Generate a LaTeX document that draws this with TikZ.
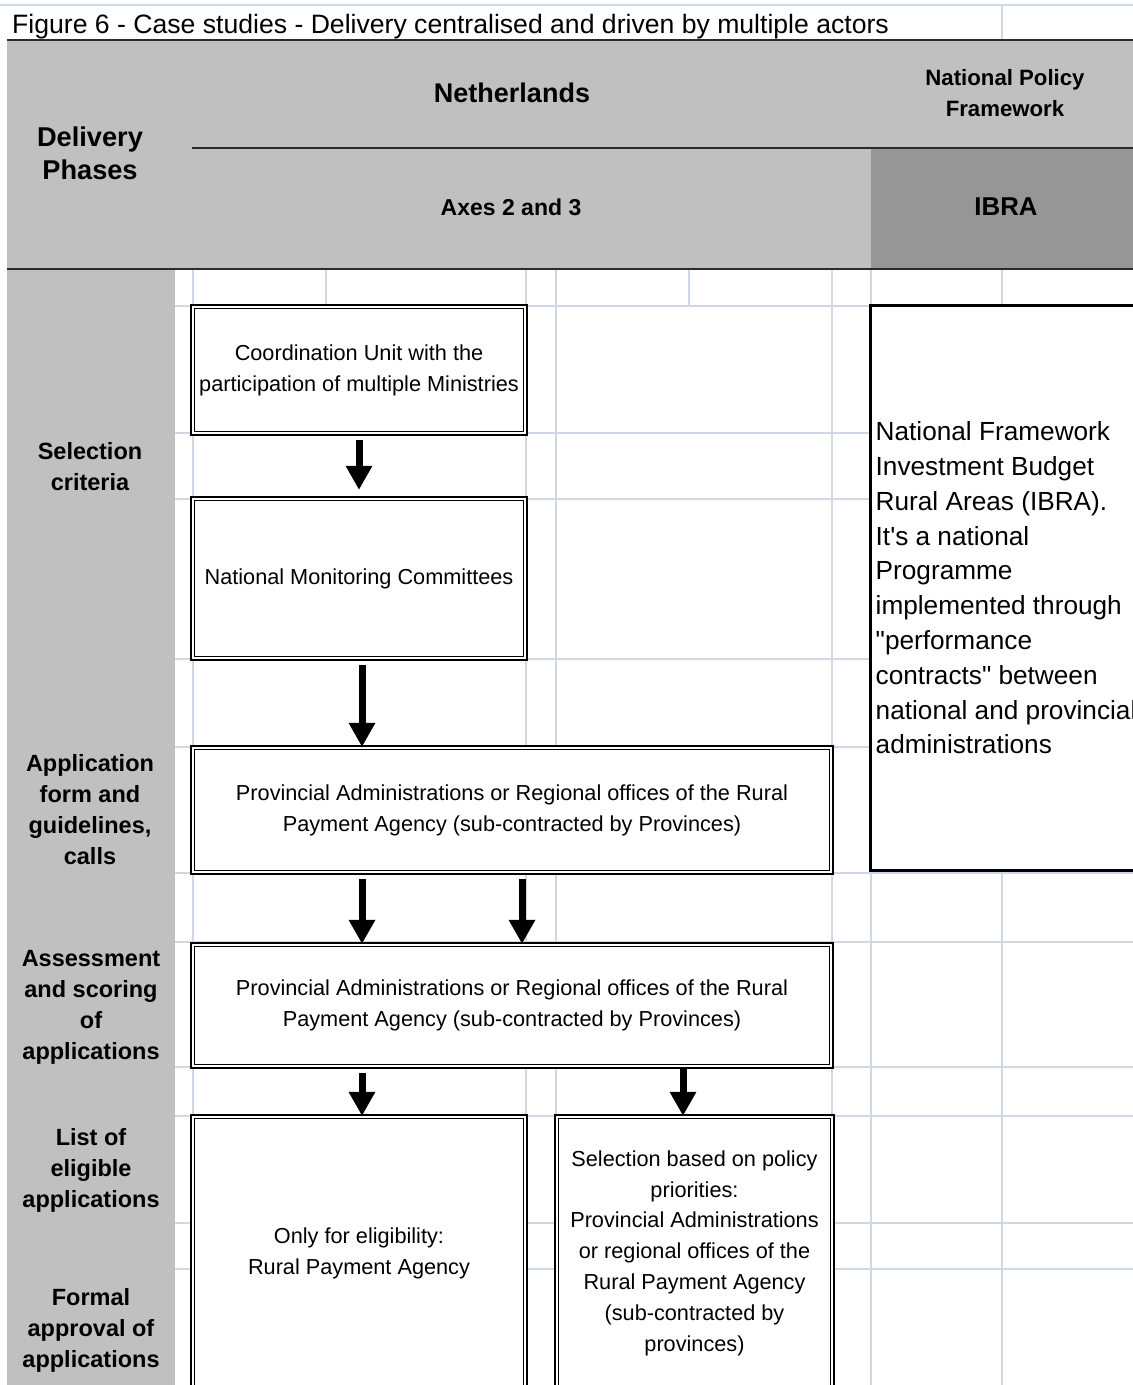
\documentclass[tikz,border=0pt]{standalone}
\usepackage{fontspec}
\setmainfont{Liberation Sans}
\usetikzlibrary{arrows.meta,calc}
\definecolor{hdrgray}{HTML}{C0C0C0}
\definecolor{ibragray}{HTML}{969696}
\definecolor{gridc}{HTML}{D0D7E5}
\definecolor{rulec}{HTML}{2B2B2B}

\begin{document}
\begin{tikzpicture}[x=1pt,y=-1pt,
  box/.style={draw=black, line width=1.7pt, double=white, double distance=2pt,
    fill=white, align=center, inner sep=0pt,
    font=\fontsize{21.7}{31}\selectfont},
  phase/.style={align=center, inner sep=0pt,
    font=\bfseries\fontsize{23.5}{31}\selectfont},
  head/.style={align=center, inner sep=0pt, font=\bfseries},
  grid/.style={draw=gridc, line width=1.3pt},
  rule/.style={draw=rulec, line width=2.6pt},
  arr/.style={line width=7pt, -{Triangle[width=25pt,length=24pt]},
    shorten <=6pt}]

\useasboundingbox (0,0) rectangle (1133,1385);
\clip (0,0) rectangle (1133,1385);

% page background and shaded header / phase column
\fill[white] (0,0) rectangle (1133,1385);
\fill[hdrgray] (7,40) rectangle (1133,268);
\fill[ibragray] (871,149) rectangle (1133,268);
\fill[hdrgray] (7,268) rectangle (175,1385);

% title row cell lines
\draw[grid] (0,5) -- (1133,5);
\draw[grid] (1002,5) -- (1002,40);

% spreadsheet grid in the body
\foreach \gx in {193,526,556,832,871,1002}
  \draw[grid] (\gx,270) -- (\gx,1385);
\foreach \gx in {326,689}
  \draw[grid] (\gx,270) -- (\gx,306);
\foreach \gy in {306,433,499,659,747,873,942,1067,1116,1223,1269}
  \draw[grid] (175,\gy) -- (1133,\gy);

% header rules
\draw[rule] (7,40) -- (1133,40);
\draw[rule] (192,148) -- (1133,148);
\draw[rule] (7,269) -- (1133,269);

% title
\node[anchor=base west, inner sep=0pt, font=\fontsize{26.6}{30}\selectfont]
  (title) at (12,33) {Figure 6 - Case studies - Delivery centralised and driven by multiple actors};

% header labels
\node[head, font=\bfseries\fontsize{27.2}{33}\selectfont] (dp) at (90,153) {Delivery\\Phases};
\node[head, font=\bfseries\fontsize{27}{33}\selectfont] (nl) at (512,93) {Netherlands};
\node[head, font=\bfseries\fontsize{22.2}{31}\selectfont] (npf) at (1005,93) {National Policy\\Framework};
\node[head, font=\bfseries\fontsize{23}{31}\selectfont] (axes) at (511,207) {Axes 2 and 3};
\node[head, font=\bfseries\fontsize{25.8}{31}\selectfont] (ibrah) at (1006,207) {IBRA};

% delivery phases
\node[phase] (p1) at (90,467) {Selection\\criteria};
\node[phase] (p2) at (90,810) {Application\\form and\\guidelines,\\calls};
\node[phase] (p3) at (91,1007) {Assessment\\and scoring\\of\\applications};
\node[phase] (p4) at (91,1170) {List of\\eligible\\applications};
\node[phase] (p5) at (91,1330) {Formal\\approval of\\applications};

% actor boxes
\node[box, minimum width=332.6pt, minimum height=126.6pt] (b1) at (359,370)
  {Coordination Unit with the\\participation of multiple Ministries};
\node[box, minimum width=332.6pt, minimum height=159.6pt] (b2) at (359,578.5)
  {National Monitoring Committees};
\node[box, minimum width=638.6pt, minimum height=124.6pt] (b3) at (512,810)
  {Provincial Administrations or Regional offices of the Rural\\Payment Agency (sub-contracted by Provinces)};
\node[box, minimum width=638.6pt, minimum height=121.6pt] (b4) at (512,1005.5)
  {Provincial Administrations or Regional offices of the Rural\\Payment Agency (sub-contracted by Provinces)};
\node[box, minimum width=332.6pt, minimum height=272.6pt] (b5) at (359,1253)
  {Only for eligibility:\\Rural Payment Agency};
\node[box, minimum width=275.6pt, minimum height=272.6pt, font=\fontsize{21.7}{30.8}\selectfont] (b6) at (694.5,1253)
  {Selection based on policy\\priorities:\\Provincial Administrations\\or regional offices of the\\Rural Payment Agency\\(sub-contracted by\\provinces)};

% national framework box
\node[draw=black, line width=3pt, fill=white, minimum width=289.5pt, minimum height=565pt, inner sep=0pt]
  (ibra) at (1015.25,588) {};
\node[anchor=west, align=left, inner sep=0pt, font=\fontsize{26.2}{34.8}\selectfont]
  (ibratext) at ($(ibra.west)+(6.5,0)$)
  {National Framework\\Investment Budget\\Rural Areas (IBRA).\\It\textquotesingle s a national\\Programme\\implemented through\\\textquotedbl performance\\contracts\textquotedbl{} between\\national and provincial\\administrations};

% flow arrows
\draw[arr, shorten >=8pt] (b1.south) -- (b1.south |- b2.north);
\draw[arr] ($(b2.south)+(3,0)$) -- ($(b2.south |- b3.north)+(3,0)$);
\draw[arr] ($(b3.south)+(-150,0)$) -- ($(b3.south |- b4.north)+(-150,0)$);
\draw[arr] ($(b3.south)+(10,0)$) -- ($(b3.south |- b4.north)+(10,0)$);
\draw[arr] ($(b5.north |- b4.south)+(3,0)$) -- ($(b5.north)+(3,0)$);
\draw[arr, shorten <=1pt] ($(b6.north |- b4.south)+(-11.5,0)$) -- ($(b6.north)+(-11.5,0)$);

\end{tikzpicture}
\end{document}
